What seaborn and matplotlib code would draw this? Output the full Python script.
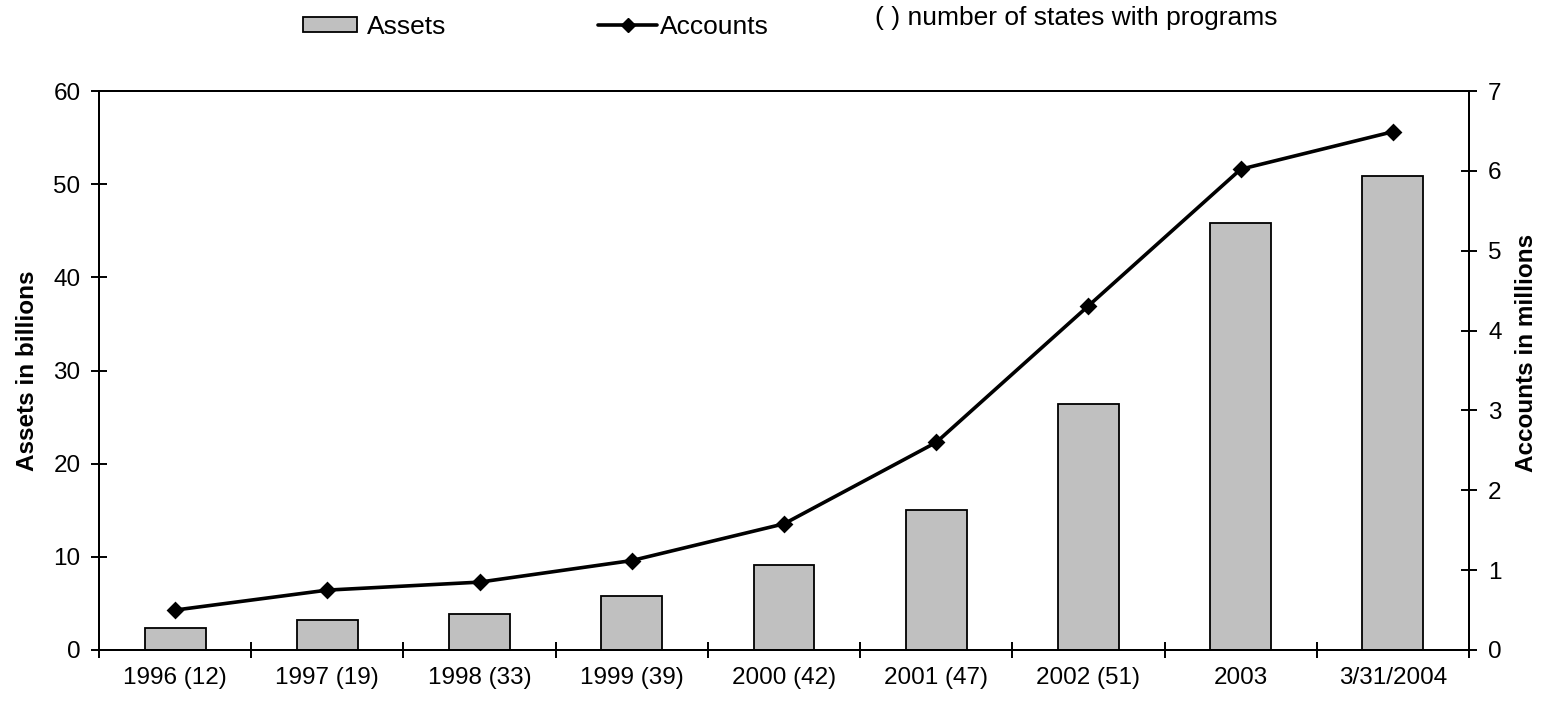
import numpy as np
import pandas as pd
import matplotlib
matplotlib.use("Agg")
import matplotlib.pyplot as plt
from matplotlib.ticker import FixedLocator, NullFormatter, FixedFormatter
from matplotlib.patches import Patch
from matplotlib.lines import Line2D
import seaborn as sns

# ---- data ----
categories = ["1996 (12)", "1997 (19)", "1998 (33)", "1999 (39)", "2000 (42)",
              "2001 (47)", "2002 (51)", "2003", "3/31/2004"]
assets = [2.35, 3.2, 3.85, 5.8, 9.15, 15.0, 26.4, 45.8, 50.9]        # billions
accounts = [0.5, 0.75, 0.85, 1.12, 1.58, 2.6, 4.31, 6.02, 6.49]     # millions
left_ticks = [0, 10, 20, 30, 40, 50, 60]
right_ticks = [0, 1, 2, 3, 4, 5, 6, 7]

sns.set_style("white")
plt.rcParams["font.family"] = ["Liberation Sans", "DejaVu Sans"]
for k in ("text.color", "axes.labelcolor", "xtick.color", "ytick.color", "axes.edgecolor"):
    plt.rcParams[k] = "black"
FS = 17.5
LFS = 19

df = pd.DataFrame({"cat": categories, "assets": assets, "accounts": accounts})

fig = plt.figure(figsize=(15.52, 7.03), dpi=100)
ax = fig.add_axes([99/1552, 1-650/703, (1469-99)/1552, (650-91)/703])
ax2 = ax.twinx()

sns.barplot(data=df, x="cat", y="assets", color="#C0C0C0", saturation=1,
            edgecolor="black", linewidth=1.3, width=0.4, ax=ax)
sns.pointplot(data=df, x="cat", y="accounts", color="black", markers="D",
              linestyles="-", markersize=7, linewidth=2.6, ax=ax2)

n = len(categories)
ax.set_xlim(-0.5, n - 0.5)
ax.set_ylim(0, 60)
ax2.set_ylim(0, 7)
ax.set_yticks(left_ticks)
ax2.set_yticks(right_ticks)
ax.set_yticklabels([str(t) for t in left_ticks], fontsize=FS)
ax2.set_yticklabels([str(t) for t in right_ticks], fontsize=FS)

# x: boundary ticks (major), labels at category centers (minor)
for a in (ax, ax2):
    a.xaxis.set_major_locator(FixedLocator(np.arange(-0.5, n, 1.0)))
    a.xaxis.set_major_formatter(NullFormatter())
    a.xaxis.set_minor_locator(FixedLocator(np.arange(0, n)))
    a.xaxis.set_minor_formatter(FixedFormatter(categories))
ax.tick_params(axis="x", which="major", direction="inout", length=11.5, width=1.4,
               bottom=True, color="black")
ax.tick_params(axis="x", which="minor", length=0, pad=12, labelsize=FS, bottom=True,
               labelcolor="black")
ax2.tick_params(axis="x", which="both", bottom=False, top=False, labelbottom=False, labeltop=False)
ax.tick_params(axis="y", direction="inout", length=11.5, width=1.4, pad=7.5, left=True,
               color="black", labelcolor="black")
ax2.tick_params(axis="y", direction="inout", length=11.5, width=1.4, pad=8, right=True,
                color="black", labelcolor="black")

ax.set_xlabel("")
ax2.set_xlabel("")
ax.set_ylabel("Assets in billions", fontsize=FS, fontweight="bold", color="black")
ax2.set_ylabel("Accounts in millions", fontsize=FS, fontweight="bold", color="black")
ax.yaxis.set_label_coords(-0.0435, 0.5)
ax2.yaxis.set_label_coords(1.0336, 0.531)

for a in (ax, ax2):
    for s in a.spines.values():
        s.set_linewidth(1.4)
        s.set_color("black")
ax.grid(False)
ax2.grid(False)

# legend
h1 = Patch(facecolor="#C0C0C0", edgecolor="black", linewidth=1.3)
h2 = Line2D([], [], color="black", lw=2.6, marker="D", markersize=7)
fig.legend(handles=[h1], labels=["Assets"], loc="center left",
           bbox_to_anchor=(303/1552, 1-27/703), frameon=False, fontsize=LFS,
           borderpad=0, borderaxespad=0, handlelength=2.05, handleheight=0.5,
           handletextpad=0.38)
fig.legend(handles=[h2], labels=["Accounts"], loc="center left",
           bbox_to_anchor=(598/1552, 1-27/703), frameon=False, fontsize=LFS,
           borderpad=0, borderaxespad=0, handlelength=2.25, handletextpad=0.08)
fig.text(875/1552, 1-18/703, "( ) number of states with programs", fontsize=LFS,
         ha="left", va="center")

fig.savefig("out.png", dpi=100)
